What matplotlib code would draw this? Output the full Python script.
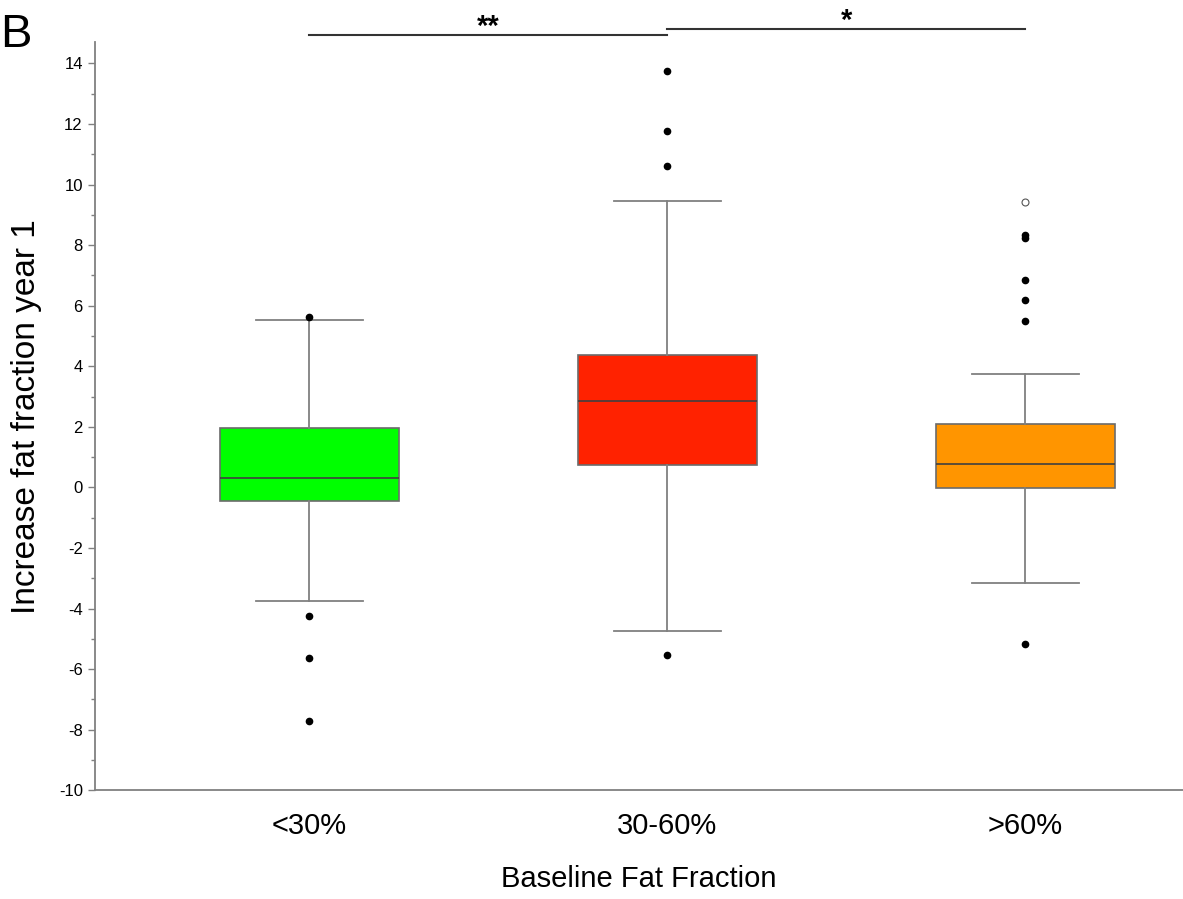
import numpy as np
import matplotlib.pyplot as plt
from matplotlib.ticker import MultipleLocator

plt.rcParams['font.family'] = ['Liberation Sans', 'DejaVu Sans']
plt.rcParams['axes.unicode_minus'] = False

groups = ['<30%', '30-60%', '>60%']
colors = ['#00ff00', '#ff2200', '#ff9500']
q1 = [-0.46, 0.73, -0.03]
med = [0.30, 2.84, 0.76]
q3 = [1.95, 4.36, 2.11]
whislo = [-3.76, -4.75, -3.17]
whishi = [5.54, 9.47, 3.73]
fliers = [
    [5.64, -4.26, -5.64, -7.72],
    [13.76, 11.78, 10.60, -5.54],
    [8.32, 8.22, 6.86, 6.20, 5.51, -5.18],
]
far_out = [None, None, 9.44]  # open circle (extreme outlier)

sig_pairs = [(1, 2, '**', 14.95), (2, 3, '*', 15.15)]

fig = plt.figure(figsize=(11.83, 8.99), dpi=100)
ax = fig.add_axes([0.080, 0.121, 0.92, 0.832])

stats = []
for i in range(len(groups)):
    stats.append(dict(q1=q1[i], med=med[i], q3=q3[i], whislo=whislo[i],
                      whishi=whishi[i], fliers=fliers[i], label=groups[i]))

gray = '#808080'
bp = ax.bxp(stats, positions=[1, 2, 3], widths=0.5, patch_artist=True,
            capwidths=0.3,
            boxprops=dict(edgecolor='#6b6b6b', linewidth=1.2),
            medianprops=dict(color='#404040', linewidth=1.2),
            whiskerprops=dict(color=gray, linewidth=1.3),
            capprops=dict(color=gray, linewidth=1.3),
            flierprops=dict(marker='o', markerfacecolor='black',
                            markeredgecolor='black', markersize=4.5))
for patch, c in zip(bp['boxes'], colors):
    patch.set_facecolor(c)

for i, v in enumerate(far_out):
    if v is not None:
        ax.plot(i + 1, v, 'o', markerfacecolor='white', markeredgecolor='#555555',
                markersize=5, markeredgewidth=0.8)

for a, b, txt, y in sig_pairs:
    ax.plot([a, b], [y, y], color='#333333', linewidth=1.5, clip_on=False)
    ax.text((a + b) / 2, y - 0.22, txt, ha='center', va='bottom',
            fontsize=21, fontweight='bold')

ax.set_xlim(0.4, 3.44)
ax.set_ylim(-10, 14.7)
ax.yaxis.set_major_locator(MultipleLocator(2))
ax.yaxis.set_minor_locator(MultipleLocator(1))
ax.tick_params(axis='y', which='major', length=5, color=gray, labelsize=12, width=1)
ax.tick_params(axis='y', which='minor', length=3, color=gray, width=1)
ax.tick_params(axis='x', length=0, labelsize=21, pad=16)

for s in ['top', 'right']:
    ax.spines[s].set_visible(False)
for s in ['left', 'bottom']:
    ax.spines[s].set_color(gray)
    ax.spines[s].set_linewidth(1.3)

ax.set_xlabel('Baseline Fat Fraction', fontsize=21, labelpad=18)
ax.set_ylabel('Increase fat fraction year 1', fontsize=24, labelpad=12)

fig.text(0.0, 0.985, 'B', fontsize=34, va='top', ha='left')

plt.savefig('out.png', dpi=100)
